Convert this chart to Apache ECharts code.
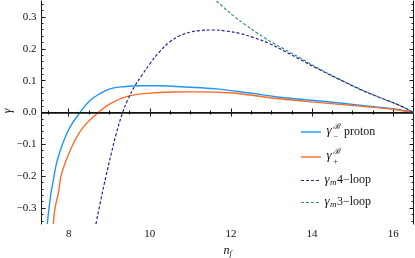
<!DOCTYPE html>
<html><head><meta charset="utf-8">
<script src="https://cdn.jsdelivr.net/npm/echarts@6/dist/echarts.min.js"></script>
<style>html,body{margin:0;padding:0;background:#fff}#c{width:415px;height:258px}</style>
</head><body><div id="c"></div>
<script>
// ---- data ----
const xTicks = [8, 10, 12, 14, 16];
const yTicks = [-0.3, -0.2, -0.1, 0.0, 0.1, 0.2, 0.3];

const protonX = [7.473, 7.515, 7.564, 7.638, 7.719, 7.852, 8.032, 8.278, 8.525, 8.754, 9.017, 9.345, 9.756, 10.25, 10.864, 11.645, 12.465, 13.2, 14.19, 15.17, 16.03, 16.5];
const protonY = [-0.35, -0.30, -0.253, -0.20, -0.15, -0.098, -0.046, 0.0, 0.0375, 0.058, 0.074, 0.081, 0.084, 0.084, 0.080, 0.074, 0.061, 0.048, 0.036, 0.023, 0.011, 0.0];

const plusX = [7.62, 7.663, 7.744, 7.81, 7.909, 8.113, 8.36, 8.729, 9.017, 9.428, 9.92, 10.576, 11.23, 11.97, 12.465, 13.2, 14.19, 15.17, 16.03, 16.5];
const plusY = [-0.35, -0.30, -0.254, -0.20, -0.16, -0.098, -0.046, 0.0, 0.027, 0.05, 0.06, 0.0645, 0.0648, 0.062, 0.055, 0.043, 0.031, 0.020, 0.0095, 0.0];

const loop4X = [8.672, 8.796, 8.919, 9.042, 9.165, 9.33, 9.461, 9.633, 9.805, 10.002, 10.249, 10.495, 10.741, 10.987, 11.234, 11.554, 11.874, 12.219, 12.589, 12.958, 13.327, 13.697, 14.19, 14.683, 15.175, 15.668, 16.161, 16.5];
const loop4Y = [-0.35, -0.272, -0.20, -0.133, -0.070, 0.0, 0.041, 0.084, 0.117, 0.153, 0.192, 0.222, 0.241, 0.252, 0.257, 0.259, 0.256, 0.248, 0.234, 0.216, 0.192, 0.167, 0.134, 0.103, 0.073, 0.047, 0.022, 0.0];

const loop3X = [11.645, 11.849, 12.095, 12.342, 12.63, 12.834, 13.039, 13.254, 13.451, 13.697, 14.19, 14.683, 15.175, 15.668, 16.161, 16.5];
const loop3Y = [0.35, 0.3266, 0.30, 0.2766, 0.2509, 0.2338, 0.2181, 0.2031, 0.1891, 0.1719, 0.136, 0.104, 0.0741, 0.0472, 0.0222, 0.0];

// ---- build ----
const zip = (xs, ys) => xs.map((x, i) => [x, ys[i]]);
const xMin = 7.33, xMax = 16.5, yMin = -0.35, yMax = 0.35;
const xMinor = [], yMinor = [];
for (let v = 7.5; v <= 16.5; v += 0.5) if (!xTicks.includes(v)) xMinor.push(v);
for (let k = -17; k <= 17; k++) { const v = +(k * 0.02).toFixed(2); if (Math.abs(v * 10 - Math.round(v * 10)) > 1e-6) yMinor.push(v); }

const FRAME = '#1a1a1a';
const SERIF = '"Liberation Serif", "DejaVu Serif", serif';
const C_BLUE = '#1e96ff', C_ORANGE = '#ff6a24', C_NAVY = '#2a2390', C_TEAL = '#3d8c7a';
const GRID = { left: 41.5, right: 1.5, top: 1, bottom: 34, outerBoundsMode: 'none' };

function xAx(g, pos, vals, len, line, labels) {
  return {
    gridIndex: g, type: 'value', min: xMin, max: xMax, position: pos,
    axisLine: { show: line, lineStyle: { color: FRAME, width: 1 } },
    axisTick: { show: true, inside: true, length: len, customValues: vals, lineStyle: { color: FRAME, width: 1 } },
    axisLabel: labels ? { show: true, customValues: vals, margin: 5, color: '#111', fontFamily: SERIF, fontSize: 11 } : { show: false },
    splitLine: { show: false }
  };
}
function yAx(g, pos, vals, len, line, labels) {
  return {
    gridIndex: g, type: 'value', min: yMin, max: yMax, position: pos,
    axisLine: { show: line, lineStyle: { color: FRAME, width: 1 } },
    axisTick: { show: true, inside: true, length: len, customValues: vals, lineStyle: { color: FRAME, width: 1 } },
    axisLabel: labels ? { show: true, customValues: vals, margin: 5, color: '#111', fontFamily: SERIF, fontSize: 11,
      formatter: v => (v < -1e-9 ? '\u2212' + Math.abs(v).toFixed(1) : Math.abs(v).toFixed(1)) } : { show: false },
    splitLine: { show: false }
  };
}

const xAxes = [
  Object.assign(xAx(0, 'bottom', xTicks, 4, true, true), {
    name: '{n|n}{f|f}', nameLocation: 'middle', nameGap: 15,
    nameTextStyle: { rich: { n: { fontFamily: SERIF, fontStyle: 'italic', fontSize: 12, color: '#111' },
                             f: { fontFamily: SERIF, fontStyle: 'italic', fontSize: 8, color: '#111', padding: [6, 0, 0, 0] } } }
  }),
  xAx(0, 'top', xTicks, 4, true, false),
  xAx(1, 'bottom', xMinor, 2, false, false),
  xAx(1, 'top', xMinor, 2, false, false)
];
const yAxes = [
  yAx(0, 'left', yTicks, 4, true, true),
  yAx(0, 'right', yTicks, 4, true, false),
  yAx(1, 'left', yMinor, 2, false, false),
  yAx(1, 'right', yMinor, 2, false, false)
];

function lineSeries(name, data, color, dashed, width) {
  return {
    name, type: 'line', data, xAxisIndex: 0, yAxisIndex: 0,
    showSymbol: false, smooth: 0.4, clip: true,
    lineStyle: { color, width, type: dashed ? [3, 2] : 'solid' },
    silent: true
  };
}

const series = [
  lineSeries('proton', zip(protonX, protonY), C_BLUE, false, 1.4),
  lineSeries('plus', zip(plusX, plusY), C_ORANGE, false, 1.4),
  lineSeries('loop3', zip(loop3X, loop3Y), C_TEAL, true, 1.2),
  lineSeries('loop4', zip(loop4X, loop4Y), C_NAVY, true, 1.2),
  { type: 'line', data: [], xAxisIndex: 2, yAxisIndex: 2, silent: true, showSymbol: false }
];
series[0].markLine = {
  silent: true, symbol: ['none', 'none'], label: { show: false },
  lineStyle: { color: '#111', width: 1.6, type: 'solid' }, data: [{ yAxis: 0 }], animation: false
};

// ---- legend and y-axis title (drawn as graphic text) ----
function t(x, y, text, size, italic, rot) {
  return { type: 'text', x, y, rotation: rot || 0, silent: true,
    style: { text, font: (italic ? 'italic ' : '') + size + 'px ' + SERIF, fill: '#111', textVerticalAlign: 'middle', textAlign: rot ? 'center' : 'left' } };
}
function lg(y, color, dashed) {
  return { type: 'line', silent: true, shape: { x1: 301, y1: y, x2: 321, y2: y },
    style: { stroke: color, lineWidth: dashed ? 1.2 : 1.4, lineDash: dashed ? [3, 2] : null } };
}
const legendEls = [
  t(8, 111, '\u03b3', 12, true, Math.PI / 2),
  lg(132, C_BLUE, false), t(326.5, 131, '\u03b3', 13, true), t(333, 126.5, '\u212c', 8, true), t(333.5, 136.5, '\u2212', 8, false), t(344, 131.5, 'proton', 12, false),
  lg(157, C_ORANGE, false), t(326.5, 156, '\u03b3', 13, true), t(333, 151.5, '\u212c', 8, true), t(333.5, 162, '+', 8, false),
  lg(180.5, C_NAVY, true), t(324.5, 180, '\u03b3', 13, true), t(330, 183, 'm', 9, true), t(337, 180, '4\u2212loop', 12, false),
  lg(202.5, C_TEAL, true), t(324.5, 202, '\u03b3', 13, true), t(330, 205, 'm', 9, true), t(337, 202, '3\u2212loop', 12, false)
];

const chart = echarts.init(document.getElementById('c'), null, { renderer: 'canvas' });
chart.setOption({
  animation: false,
  backgroundColor: '#fff',
  grid: [Object.assign({}, GRID), Object.assign({}, GRID)],
  xAxis: xAxes,
  yAxis: yAxes,
  series,
  graphic: { elements: legendEls }
});
</script></body></html>
